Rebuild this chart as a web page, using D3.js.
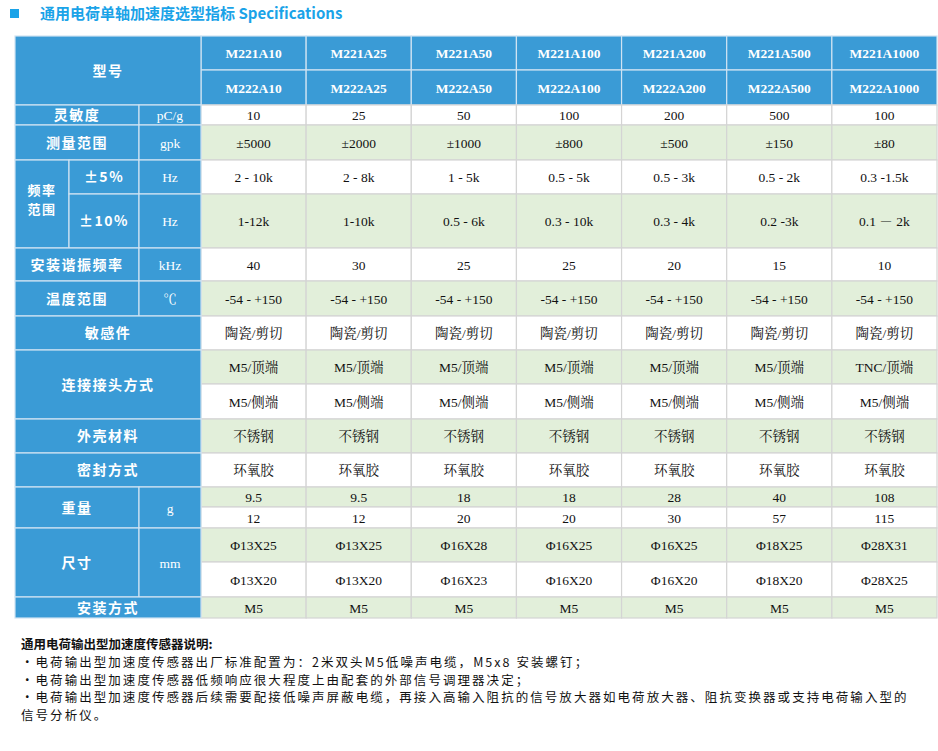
<!DOCTYPE html>
<html><head><meta charset="utf-8">
<script src="https://cdn.jsdelivr.net/npm/d3@7/dist/d3.min.js"></script>
<style>body{margin:0;background:#fff}</style></head>
<body><svg id="c" width="938" height="751"></svg>
<script>
const models1=["M221A10","M221A25","M221A50","M221A100","M221A200","M221A500","M221A1000"];
const models2=["M222A10","M222A25","M222A50","M222A100","M222A200","M222A500","M222A1000"];
const sensitivity=["10","25","50","100","200","500","100"];
const measRange=["±5000","±2000","±1000","±800","±500","±150","±80"];
const freq5=["2 - 10k","2 - 8k","1 - 5k","0.5 - 5k","0.5 - 3k","0.5 - 2k","0.3 -1.5k"];
const freq10=["1-12k","1-10k","0.5 - 6k","0.3 - 10k","0.3 - 4k","0.2 -3k","0.1 － 2k"];
const resonance=["40","30","25","25","20","15","10"];
const temp=Array(7).fill("-54 - +150");
const element=Array(7).fill("陶瓷/剪切");
const conn1=["M5/顶端","M5/顶端","M5/顶端","M5/顶端","M5/顶端","M5/顶端","TNC/顶端"];
const conn2=Array(7).fill("M5/侧端");
const housing=Array(7).fill("不锈钢");
const seal=Array(7).fill("环氧胶");
const weight1=["9.5","9.5","18","18","28","40","108"];
const weight2=["12","12","20","20","30","57","115"];
const size1=["Φ13X25","Φ13X25","Φ16X28","Φ16X25","Φ16X25","Φ18X25","Φ28X31"];
const size2=["Φ13X20","Φ13X20","Φ16X23","Φ16X20","Φ16X20","Φ18X20","Φ28X25"];
const mount=Array(7).fill("M5");
const notes=["•电荷输出型加速度传感器出厂标准配置为：2米双头M5低噪声电缆，M5x8 安装螺钉；",
"•电荷输出型加速度传感器低频响应很大程度上由配套的外部信号调理器决定；",
"•电荷输出型加速度传感器后续需要配接低噪声屏蔽电缆，再接入高输入阻抗的信号放大器如电荷放大器、阻抗变换器或支持电荷输入型的",
"信号分析仪。"];

const rows=[models1,models2,sensitivity,measRange,freq5,freq10,resonance,temp,element,conn1,conn2,housing,seal,weight1,weight2,size1,size2,mount];
const rowH=[34,35,20,35,34,54,33,35,34,34,35,34,34,20,21,34,35,21];
const bounds=[36];rowH.forEach(h=>bounds.push(bounds[bounds.length-1]+h));
const blue="#3a9bd6",green="#e2efda",grid="#d4d4d4";
const svg=d3.select("#c");
const x=d3.scaleBand().domain(d3.range(7)).range([201,937]);
const y=i=>bounds[i], h=i=>bounds[i+1]-bounds[i];
const serif="'Liberation Serif','Noto Serif CJK SC','Noto Sans CJK SC',serif";

svg.append("rect").attr("x",10).attr("y",9).attr("width",9).attr("height",9).attr("fill","#1aa3e8");
svg.append("text").attr("x",40).attr("y",19).attr("font-family","'Noto Sans CJK SC','Open Sans',sans-serif").attr("font-weight","bold").attr("font-size",15).attr("fill","#1aa3e8").text("通用电荷单轴加速度选型指标 Specifications");

rows.forEach((arr,r)=>{
  const hdr=r<2;
  const fill=hdr?blue:(r%2===1?green:"#fff");
  const g=svg.append("g");
  g.selectAll("rect").data(arr).join("rect").attr("x",(d,i)=>x(i)).attr("y",y(r)).attr("width",x.bandwidth()).attr("height",h(r))
    .attr("fill",fill).attr("stroke",hdr?"#cfe3f2":grid).attr("stroke-width",1.2);
  g.selectAll("text").data(arr).join("text").attr("x",(d,i)=>x(i)+x.bandwidth()/2).attr("y",y(r)+h(r)/2+5)
    .attr("text-anchor","middle").attr("font-family",serif).attr("font-size",13.5)
    .attr("font-weight",hdr?"bold":"normal").attr("fill",hdr?"#fff":"#111").text(d=>d);
});

const labels=[
 [15,201,0,1,"型号"],[15,139,2,2,"灵敏度"],[139,201,2,2,"pC/g"],
 [15,139,3,3,"测量范围"],[139,201,3,3,"gpk"],
 [15,69,4,5,"频率\n范围"],[69,139,4,4,"±5%"],[139,201,4,4,"Hz"],[69,139,5,5,"±10%"],[139,201,5,5,"Hz"],
 [15,139,6,6,"安装谐振频率"],[139,201,6,6,"kHz"],[15,139,7,7,"温度范围"],[139,201,7,7,"℃"],
 [15,201,8,8,"敏感件"],[15,201,9,10,"连接接头方式"],[15,201,11,11,"外壳材料"],[15,201,12,12,"密封方式"],
 [15,139,13,14,"重量"],[139,201,13,14,"g"],[15,139,15,16,"尺寸"],[139,201,15,16,"mm"],[15,201,17,17,"安装方式"]];
const lg=svg.append("g");
labels.forEach(([x0,x1,r0,r1,t])=>{
  const y0=y(r0),y1=bounds[r1+1];
  lg.append("rect").attr("x",x0).attr("y",y0).attr("width",x1-x0).attr("height",y1-y0).attr("fill",blue).attr("stroke","#cfe3f2").attr("stroke-width",1.2);
  const unit=x0===139;
  const lines=t.split("\n");
  lines.forEach((l,k)=>{
    lg.append("text").attr("x",(x0+x1)/2).attr("y",(y0+y1)/2+5+(k-(lines.length-1)/2)*19-(lines.length>1?5:0))
      .attr("text-anchor","middle").attr("fill","#fff").attr("font-size",unit?13.5:(lines.length>1?13:14))
      .attr("font-family",unit?serif:"'Noto Sans CJK SC',sans-serif").attr("font-weight",unit?"normal":"bold")
      .attr("letter-spacing",unit?0:1.5).text(l);
  });
});

const ng=svg.append("g").attr("font-family","'Noto Sans CJK SC','Liberation Serif',serif").attr("font-size",12.5).attr("fill","#111");
ng.append("text").attr("x",21).attr("y",649).attr("font-weight","bold").text("通用电荷输出型加速度传感器说明:");
ng.selectAll("text.n").data(notes).join("text").attr("class","n").attr("x",21).attr("y",(d,i)=>667+i*17.5).attr("letter-spacing",2.05).text(d=>d);
</script></body></html>
